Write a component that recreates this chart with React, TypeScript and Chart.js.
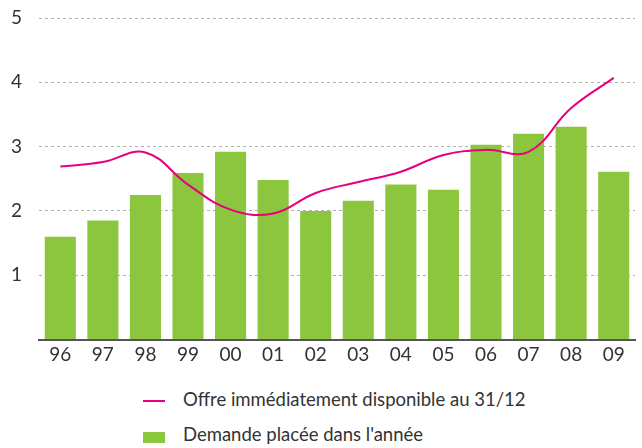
import React, { useEffect, useRef } from "react";
import { Chart, registerables } from "chart.js";

Chart.register(...registerables);

const categories = ["96", "97", "98", "99", "00", "01", "02", "03", "04", "05", "06", "07", "08", "09"];
const demande = [1.6, 1.85, 2.25, 2.59, 2.92, 2.48, 2.0, 2.16, 2.41, 2.33, 3.03, 3.2, 3.31, 2.61];
const offre = [2.69, 2.76, 2.91, 2.41, 2.02, 1.96, 2.28, 2.45, 2.61, 2.87, 2.95, 2.92, 3.6, 4.07];
const yTicks = [0, 1, 2, 3, 4, 5];
const legendLabels = ["Offre immédiatement disponible au 31/12", "Demande placée dans l'année"];

const GREEN = "#8cc63f";
const MAGENTA = "#e6007e";
const FONT = "Lato, 'DejaVu Sans', sans-serif";

export default function App() {
  const ref = useRef<HTMLCanvasElement | null>(null);
  useEffect(() => {
    if (!ref.current) return;
    const chart = new Chart(ref.current, {
      type: "bar",
      data: {
        labels: categories,
        datasets: [
          {
            type: "line",
            label: legendLabels[0],
            data: offre,
            borderColor: MAGENTA,
            backgroundColor: MAGENTA,
            borderWidth: 2,
            pointRadius: 0,
            tension: 0.4,
            order: 0,
          } as any,
          {
            type: "bar",
            label: legendLabels[1],
            data: demande,
            backgroundColor: GREEN,
            categoryPercentage: 1,
            barPercentage: 0.73,
            order: 1,
          },
        ],
      },
      options: {
        animation: false,
        responsive: false,
        maintainAspectRatio: false,
        layout: { padding: { top: 18, right: 7, left: 0, bottom: 0 } },
        plugins: { legend: { display: false }, tooltip: { enabled: false } },
        scales: {
          x: {
            grid: { display: false, drawTicks: false },
            border: { display: true, color: "#555", width: 2 },
            ticks: { color: "#333", font: { family: FONT, size: 19 }, padding: 4 },
            afterFit: (s: any) => { s.height = 28; },
          },
          y: {
            min: 0,
            max: 5,
            afterBuildTicks: (s: any) => { s.ticks = yTicks.map((v) => ({ value: v })); },
            grid: {
              color: (ctx: any) => (ctx.tick && ctx.tick.value === 0 ? "rgba(0,0,0,0)" : "#b0b0b0"),
              drawTicks: false,
              lineWidth: 1,
            },
            border: { display: false, dash: [3, 3] },
            ticks: {
              color: "#333",
              font: { family: FONT, size: 19 },
              padding: 17,
              callback: (v: any) => (v === 0 ? "" : String(v)),
            },
            afterFit: (s: any) => { s.width = 39; s.paddingTop = 0; },
          },
        },
      },
    });
    return () => chart.destroy();
  }, []);

  return (
    <div style={{ position: "absolute", left: 0, top: 0, width: 642, height: 448, background: "#fff", fontFamily: FONT }}>
      <div style={{ position: "absolute", left: 0, top: 0, width: 642, height: 368 }}>
        <canvas ref={ref} width={642} height={368} style={{ display: "block", width: 642, height: 368 }} />
      </div>
      <div style={{ position: "absolute", left: 143, top: 400, width: 22, height: 2, background: MAGENTA }} />
      <div style={{ position: "absolute", left: 183, top: 387, fontSize: 18.5, color: "#333", whiteSpace: "nowrap", lineHeight: "24px" }}>
        {legendLabels[0]}
      </div>
      <div style={{ position: "absolute", left: 143, top: 432, width: 22, height: 11, background: GREEN }} />
      <div style={{ position: "absolute", left: 183, top: 422, fontSize: 18.5, color: "#333", whiteSpace: "nowrap", lineHeight: "24px" }}>
        {legendLabels[1]}
      </div>
    </div>
  );
}
